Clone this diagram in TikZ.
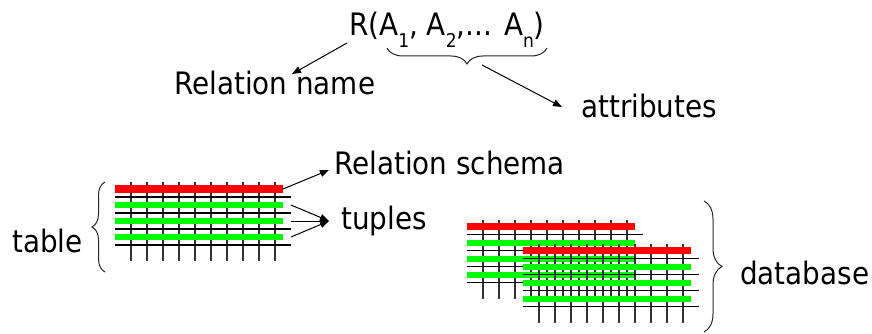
\documentclass[tikz,border=0pt]{standalone}
\usepackage{fontspec}
\setmainfont{DejaVu Sans}[FakeStretch=0.9]
\usetikzlibrary{arrows.meta,decorations.pathreplacing}
\newcommand{\sbs}[1]{\raisebox{-0.36em}{\fontsize{19}{19}\selectfont #1}}
\tikzset{
  lbl/.style={inner sep=0pt,anchor=base west,font=\fontsize{30.9}{37}\selectfont},
  vline/.style={line width=1.4pt,draw=black!80},
  hline/.style={line width=1.4pt,draw=black},
  redbar/.style={line width=7.5pt,draw={rgb,255:red,255;green,0;blue,0}},
  greenbar/.style={line width=6pt,draw={rgb,255:red,0;green,255;blue,0}},
  arr/.style={line width=1pt,-{Triangle[length=9pt,width=7pt]}},
  bracestyle/.style={line width=1pt,draw=black!85,decorate,decoration={brace,amplitude=#1}},
  relgrid/.pic={
    \foreach \k in {0,...,9} \draw[vline] (16+16*\k,-7) -- (16+16*\k,72);
    \foreach \d in {8,24,40,56} \draw[hline] (0,\d) -- (176,\d);
    \draw[redbar] (0,0) -- (168,0);
    \foreach \d in {16,32,48} \draw[greenbar] (0,\d) -- (168,\d);
    \coordinate (-red) at (168,0);
    \coordinate (-g1) at (176,16);
    \coordinate (-g2) at (176,32);
    \coordinate (-g3) at (176,48);
  }
}
\begin{document}
\begin{tikzpicture}[x=1pt,y=-1pt]
\useasboundingbox (0,0) rectangle (872,334);
% texts
\node[lbl] (rel) at (349,36) {R(A\sbs{1}, A\sbs{2},... A\sbs{n})};
\node[lbl] (rname) at (174,94.3) {Relation name};
\node[lbl] (attr) at (581,117.3) {attributes};
\node[lbl] (schema) at (334,174) {Relation schema};
\node[lbl] (tuples) at (341,229.5) {tuples};
\node[lbl] (table) at (12,252) {table};
\node[lbl] (db) at (740,284) {database};
% grids
\pic (tab) at (115,189) {relgrid};
\pic (dba) at (467,226.5) {relgrid};
\pic (dbb) at (523,250.5) {relgrid};
% braces
\draw[bracestyle=16] (547,48) -- (387,48);
\draw[bracestyle=13] (105,272) -- (105,182);
\draw[bracestyle=18] (704,201) -- (704,332);
% connector points
\coordinate (rtail) at (347,43);
\coordinate (rhead) at (292,74);
\coordinate (atail) at (482,65);
\coordinate (ahead) at (562,107);
\coordinate (shead) at (329,170);
\coordinate (thead) at (329,221);
% arrows
\draw[arr] (rtail) -- (rhead);
\draw[arr] (atail) -- (ahead);
\draw[arr] (tab-red) -- (shead);
\draw[arr] (tab-g1) -- (thead);
\draw[arr] (tab-g2) -- (thead);
\draw[arr] (tab-g3) -- (thead);
\end{tikzpicture}
\end{document}
